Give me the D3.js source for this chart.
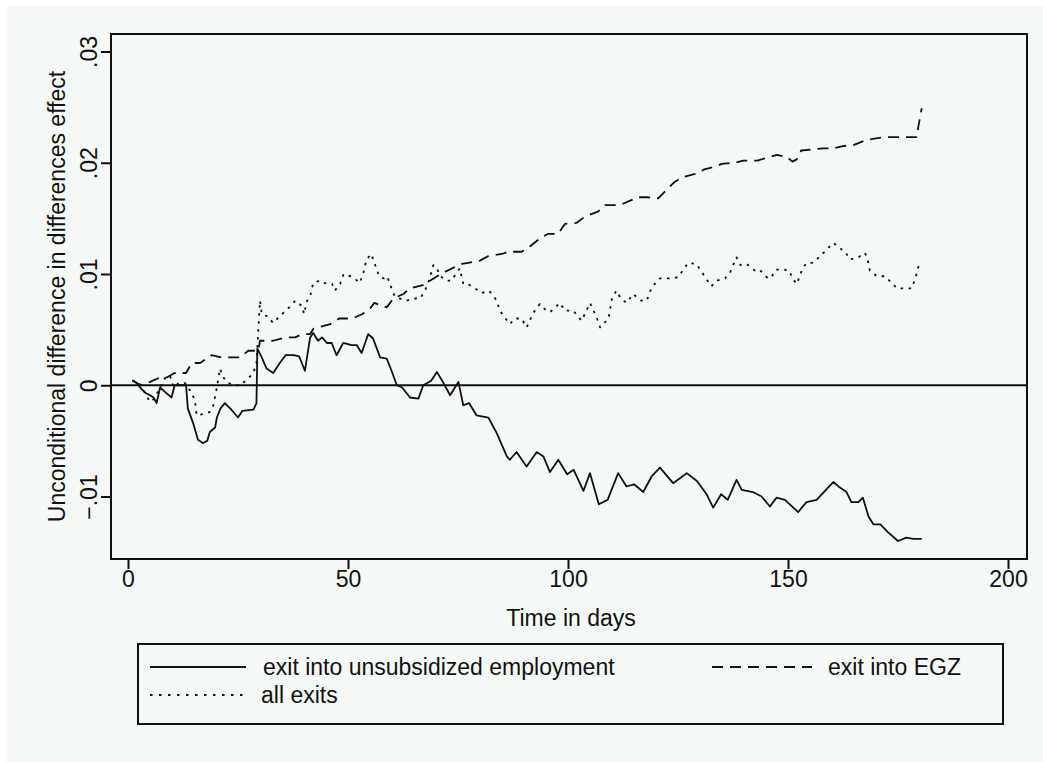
<!DOCTYPE html>
<html>
<head>
<meta charset="utf-8">
<script src="https://cdn.jsdelivr.net/npm/d3@7"></script>
<style>
  html, body { margin: 0; padding: 0; background: #ffffff; }
  svg { display: block; }
  text { font-family: "Liberation Sans", Arial, sans-serif; fill: #111; }
</style>
</head>
<body>
<svg id="chart" width="1043" height="762"></svg>
<script>
// ---- data ----
const xTicks = [0, 50, 100, 150, 200];
const yTicks = [-0.01, 0, 0.01, 0.02, 0.03];
const xLabel = "Time in days";
const yLabel = "Unconditional difference in differences effect";
const seriesNames = ["exit into unsubsidized employment", "exit into EGZ", "all exits"];

// [day, effect]
const unsubsidized = [
  [1,0.00045],[2,0.0002],[3,-0.0003],[4,-0.0007],[5,-0.0009],[5.8,-0.0011],[6.5,-0.0016],[7.3,-0.0002],
  [8.4,-0.0006],[9.9,-0.0011],[10.6,0],[13.2,0],[13.6,-0.0021],[14.8,-0.0034],[15.9,-0.0049],[17,-0.0052],
  [18,-0.005],[18.6,-0.0042],[19.8,-0.0038],[20.2,-0.0029],[21,-0.0021],[22,-0.0016],[23.5,-0.0022],[25,-0.0029],
  [26,-0.0023],[28.5,-0.0022],[29.2,-0.0016],[29.4,0.0033],[30.4,0.0025],[31.5,0.0015],[33,0.0011],[34.5,0.002],
  [35.8,0.0027],[37.7,0.0027],[38.9,0.0026],[40.2,0.0013],[41.4,0.0043],[42.1,0.0047],[43.2,0.004],[44.1,0.0043],
  [45.2,0.0038],[46.3,0.0038],[47.4,0.0027],[48.9,0.0038],[50.8,0.0036],[52,0.0036],[53.1,0.0029],[54.6,0.0046],
  [55.7,0.0042],[57.3,0.0025],[58.8,0.0024],[59.9,0.0013],[61.1,0],[62.3,-0.0002],[64.1,-0.0011],[66,-0.0012],
  [67.1,0],[68.9,0.0004],[70.2,0.0012],[71.7,0.0002],[73.2,-0.0009],[75.1,0.0003],[76.2,-0.0018],[77.5,-0.0016],
  [79.2,-0.0027],[81.9,-0.0029],[83.8,-0.0043],[86.1,-0.0064],[86.8,-0.0067],[88.3,-0.006],[90.6,-0.0073],[92.9,-0.006],
  [94.4,-0.0064],[95.9,-0.0078],[97.8,-0.0067],[99.8,-0.008],[101.3,-0.0076],[103.5,-0.0095],[105,-0.0079],[107,-0.0107],
  [109,-0.0103],[111.4,-0.0079],[113.3,-0.0091],[115,-0.0089],[117.1,-0.0096],[119,-0.0082],[120.9,-0.0074],[123.9,-0.0088],
  [127,-0.0079],[129.3,-0.0086],[131.5,-0.0098],[133,-0.011],[134.8,-0.0098],[136.3,-0.0103],[138.3,-0.0085],[139.5,-0.0094],
  [142,-0.0096],[144,-0.01],[145.9,-0.0109],[147.4,-0.0101],[149.3,-0.0103],[152.3,-0.0114],[154.2,-0.0105],[156.5,-0.0103],
  [159.1,-0.0092],[160.3,-0.0087],[161.8,-0.0092],[163.3,-0.0096],[164.4,-0.0105],[166,-0.0105],[167,-0.0101],[168.3,-0.0118],
  [169.4,-0.0125],[171,-0.0125],[172.7,-0.0132],[175,-0.014],[176.9,-0.0137],[178.5,-0.0138],[180.4,-0.0138]
];
const egz = [
  [1,0.0004],[3,0.0],[5,0.0003],[7.3,0.0007],[8.8,0.0007],[10.6,0.0011],[13.2,0.0011],[14.5,0.002],
  [16.4,0.002],[19,0.0027],[21.3,0.0025],[22.7,0.0025],[25.5,0.0025],[27.3,0.0031],[29.6,0.0031],[30,0.004],
  [33,0.004],[35.7,0.0043],[38,0.0043],[39.6,0.0046],[41.4,0.0046],[42.2,0.0051],[46,0.0055],[48,0.006],
  [51,0.006],[53.3,0.0064],[55,0.0069],[56,0.0074],[58.8,0.007],[60.3,0.0078],[62.6,0.0082],[64,0.0087],
  [67,0.009],[68.6,0.0094],[71.6,0.0101],[73.6,0.0105],[75.9,0.0109],[77.3,0.011],[80,0.0112],[81.8,0.0116],
  [85,0.0118],[86.4,0.012],[89.5,0.012],[91.4,0.0125],[93.6,0.0132],[95.4,0.0136],[97.7,0.0136],[99.3,0.0145],
  [102,0.0146],[104,0.0152],[106.8,0.0156],[108.4,0.0162],[111.8,0.0162],[113.6,0.0165],[116,0.0169],[118,0.0169],
  [120.5,0.0168],[122.5,0.0176],[124,0.0182],[126,0.0187],[128.9,0.019],[131,0.0194],[133,0.0196],[135,0.0199],
  [138,0.02],[139.8,0.0202],[143,0.0202],[144.8,0.0204],[147.5,0.0207],[149.8,0.0205],[151,0.0201],[152,0.0203],
  [153,0.0211],[155.7,0.0212],[158,0.0213],[160.3,0.0213],[162.5,0.0215],[165,0.0216],[167.5,0.022],[170,0.0222],
  [172,0.0223],[175,0.0223],[177,0.0223],[179.3,0.0223],[179.6,0.0232],[180.4,0.0249]
];
const allExits = [
  [1,0.0004],[2,0.0003],[3,0.0],[4,-0.0008],[5,-0.0015],[6,-0.0012],[7.3,-0.0002],[8.5,0.0007],
  [9.5,0.0009],[10.4,-0.0002],[11.5,0.0002],[13,0.0002],[14,-0.0004],[15.2,-0.0013],[15.6,-0.0027],[17,-0.0026],
  [18.6,-0.0024],[19.4,-0.0018],[20.2,-0.0002],[20.9,0.0015],[21.7,0.0007],[22.7,0.0002],[24.3,0.0],[25.5,0.0],
  [27,0.0005],[28.5,0.0011],[29.2,0.002],[29.6,0.0049],[30,0.0076],[30.4,0.0064],[31.7,0.0062],[33,0.0056],
  [34,0.006],[35.8,0.0067],[36.9,0.0071],[38,0.0076],[39.6,0.0071],[40,0.0064],[40.7,0.0076],[41.4,0.008],
  [42.1,0.0092],[43.6,0.0094],[44.4,0.0092],[46.4,0.0091],[47,0.0085],[48.2,0.0091],[49,0.01],[50.5,0.0098],
  [51.5,0.0096],[52.7,0.0092],[53.5,0.0101],[54.2,0.0113],[55.3,0.0118],[56,0.011],[57,0.0099],[58,0.0096],
  [58.9,0.0098],[59.9,0.0087],[60.6,0.008],[61.7,0.0078],[63.3,0.0076],[64.8,0.0078],[66.4,0.0078],[67.5,0.0085],
  [68.5,0.0095],[69.4,0.0108],[70.2,0.0105],[71,0.0098],[72.4,0.0094],[73.5,0.0094],[74.5,0.01],[75.4,0.0105],
  [76.2,0.0091],[77.3,0.0091],[78.5,0.0088],[80.4,0.0083],[82,0.0085],[82.7,0.0082],[83.8,0.0076],[84.5,0.0067],
  [85.6,0.0061],[86.8,0.0055],[87.9,0.006],[89.4,0.006],[90.6,0.0052],[92.1,0.0065],[93.6,0.0073],[95.1,0.0067],
  [96,0.0066],[98.2,0.0074],[99.3,0.0067],[101.2,0.0067],[103.1,0.0058],[105,0.0074],[106.5,0.0061],[107.3,0.0052],
  [109.2,0.006],[110,0.0078],[111,0.0085],[112,0.0078],[113.3,0.0074],[114.8,0.0082],[116.7,0.0076],[117.9,0.0076],
  [119,0.0088],[120.9,0.0096],[123.2,0.0096],[125,0.0097],[127.3,0.011],[129.2,0.0109],[130.7,0.01],[132.6,0.0089],
  [133.8,0.0094],[135.7,0.0096],[136.8,0.0101],[138.3,0.0115],[139.2,0.0108],[140.6,0.0109],[142.5,0.0103],[143.5,0.0104],
  [145.2,0.0097],[146,0.0096],[147.3,0.0104],[149,0.0104],[150.3,0.0103],[151,0.0096],[152,0.0091],[153.2,0.0104],
  [154.2,0.011],[155.7,0.011],[157.3,0.0116],[158.8,0.0122],[160.3,0.0128],[161.5,0.0124],[163,0.012],[164.1,0.0113],
  [166,0.0115],[167.5,0.0119],[168.3,0.011],[168.6,0.0103],[170.2,0.0098],[172,0.0098],[173.6,0.0092],[174.8,0.0087],
  [176.6,0.0087],[178.1,0.0087],[179,0.0097],[180,0.0112]
];

// ---- layout ----
const svg = d3.select("#chart");
const W = 1043, H = 762;
const frame = { left: 111, right: 1027, top: 34, bottom: 559 };
const bg = "#f5f9f7";
const ink = "#111";

svg.append("rect").attr("x", 7).attr("y", 5).attr("width", W - 7).attr("height", H - 5).attr("fill", bg);

const x = d3.scaleLinear().domain([0, 200]).range([128, 1008]);
const y = d3.scaleLinear().domain([-0.01, 0.03]).range([496.5, 51.5]);

// frame
svg.append("rect")
  .attr("x", frame.left).attr("y", frame.top)
  .attr("width", frame.right - frame.left).attr("height", frame.bottom - frame.top)
  .attr("fill", bg).attr("stroke", ink).attr("stroke-width", 2);

// x axis
const xAxis = svg.append("g").attr("transform", `translate(0,${frame.bottom})`)
  .call(d3.axisBottom(x).tickValues(xTicks).tickSize(10).tickSizeOuter(0).tickPadding(4).tickFormat(d3.format("d")));
xAxis.select(".domain").remove();
xAxis.selectAll(".tick line").attr("stroke", ink).attr("stroke-width", 2);
xAxis.selectAll(".tick text").attr("font-size", 23).attr("fill", ink)
  .attr("dy", null).attr("y", 28).attr("font-family", "Liberation Sans, Arial, sans-serif");

// y axis
const yFmt = d => d === 0 ? "0" : d3.format(".2f")(d).replace("0.", ".");
const yAxis = svg.append("g").attr("transform", `translate(${frame.left},0)`)
  .call(d3.axisLeft(y).tickValues(yTicks).tickSize(10).tickSizeOuter(0).tickFormat(yFmt));
yAxis.select(".domain").remove();
yAxis.selectAll(".tick line").attr("stroke", ink).attr("stroke-width", 2);
yAxis.selectAll(".tick text")
  .attr("font-size", 23).attr("fill", ink).attr("font-family", "Liberation Sans, Arial, sans-serif")
  .attr("x", null).attr("dy", null)
  .attr("text-anchor", "middle")
  .attr("transform", "translate(-14,0) rotate(-90)");

// axis titles
svg.append("text").attr("x", 571).attr("y", 626).attr("text-anchor", "middle")
  .attr("font-size", 23).text(xLabel);
svg.append("text").attr("transform", `translate(65,${(frame.top + frame.bottom) / 2}) rotate(-90)`)
  .attr("text-anchor", "middle").attr("font-size", 23).text(yLabel);

// zero line
svg.append("line").attr("x1", frame.left).attr("x2", frame.right)
  .attr("y1", y(0)).attr("y2", y(0)).attr("stroke", ink).attr("stroke-width", 2);

// series
const line = d3.line().x(d => x(d[0])).y(d => y(d[1]));
const styles = [
  { data: unsubsidized, dash: null },
  { data: egz, dash: "11,7" },
  { data: allExits, dash: "2.5,5.5" }
];
styles.forEach(s => {
  svg.append("path").datum(s.data).attr("d", line)
    .attr("fill", "none").attr("stroke", ink).attr("stroke-width", 1.8)
    .attr("stroke-linejoin", "round")
    .attr("stroke-dasharray", s.dash);
});

// legend
const lg = { left: 138, right: 1003, top: 644, bottom: 724 };
svg.append("rect").attr("x", lg.left).attr("y", lg.top)
  .attr("width", lg.right - lg.left).attr("height", lg.bottom - lg.top)
  .attr("fill", bg).attr("stroke", ink).attr("stroke-width", 2);
const legendItems = [
  { name: seriesNames[0], dash: null, x0: 150, x1: 246, tx: 263, y: 667 },
  { name: seriesNames[1], dash: "11,7", x0: 712, x1: 812, tx: 828, y: 667 },
  { name: seriesNames[2], dash: "2.5,6.5", x0: 150, x1: 243, tx: 261, y: 695 }
];
legendItems.forEach(it => {
  svg.append("line").attr("x1", it.x0).attr("x2", it.x1).attr("y1", it.y).attr("y2", it.y)
    .attr("stroke", ink).attr("stroke-width", 1.8).attr("stroke-dasharray", it.dash);
  svg.append("text").attr("x", it.tx).attr("y", it.y + 8).attr("font-size", 23).text(it.name);
});
</script>
</body>
</html>
